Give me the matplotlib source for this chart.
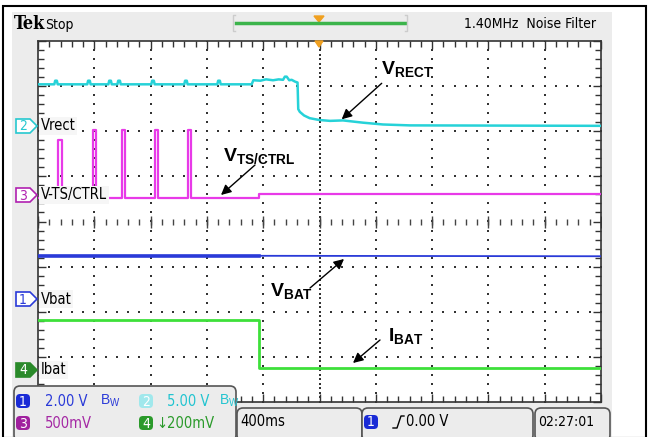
import numpy as np
import matplotlib.pyplot as plt
from matplotlib.patches import Rectangle, FancyBboxPatch, Polygon
from matplotlib.ticker import MultipleLocator

plt.rcParams['font.family'] = ['DejaVu Sans']
plt.rcParams['font.stretch'] = 'condensed'
plt.rcParams['mathtext.fontset'] = 'custom'
plt.rcParams['mathtext.rm'] = 'Liberation Sans'
plt.rcParams['mathtext.bf'] = 'Liberation Sans:bold'

# time in ms (400 ms/div), amplitude in screen divisions
vrect_t = [-2000,
           -1884, -1878, -1866, -1860,
           -1650, -1644, -1632, -1626,
           -1500, -1494, -1482, -1476,
           -1436, -1430, -1418, -1412,
           -1195, -1189, -1177, -1171,
           -961, -955, -943, -937,
           -726, -720, -708, -702,
           -482, -470, -420, -380, -330, -290, -259, -246, -233, -215, -198,
           -174, -156, -151, -140, -110, -70, -3, 75, 167, 309, 451, 643, 2000]
vrect_v = [3.04,
           3.04, 3.12, 3.12, 3.04,
           3.04, 3.12, 3.12, 3.04,
           3.04, 3.12, 3.12, 3.04,
           3.04, 3.12, 3.12, 3.04,
           3.04, 3.12, 3.12, 3.04,
           3.04, 3.12, 3.12, 3.04,
           3.04, 3.12, 3.12, 3.04,
           3.04, 3.13, 3.12, 3.15, 3.13, 3.15, 3.14, 3.21, 3.21, 3.13, 3.14,
           3.10, 3.08, 2.49, 2.43, 2.35, 2.29, 2.25, 2.23, 2.24, 2.19, 2.15, 2.13, 2.12]

vts_t = [-2000, -1858, -1858, -1830, -1830,
         -1609, -1609, -1588, -1588,
         -1403, -1403, -1382, -1382,
         -1169, -1169, -1148, -1148,
         -934, -934, -913, -913,
         -430, -430, 2000]
vts_v = [0.52, 0.52, 1.81, 1.81, 0.52,
         0.52, 2.03, 2.03, 0.52,
         0.52, 2.03, 2.03, 0.52,
         0.52, 2.03, 2.03, 0.52,
         0.52, 2.03, 2.03, 0.52,
         0.52, 0.61, 0.61]

vbat_t = [-2000, -430, 2000]
vbat_v = [-0.76, -0.76, -0.77]

ibat_t = [-2000, -430, -430, 2000]
ibat_v = [-2.18, -2.18, -3.25, -3.25]

fig = plt.figure(figsize=(6.49, 4.37), dpi=100)

# background: outer frame and grey scope panel (pixel coords)
bg = fig.add_axes([0, 0, 1, 1])
bg.set_xlim(0, 649)
bg.set_ylim(437, 0)
bg.axis('off')
bg.add_patch(Rectangle((12, 12), 600, 425, fc='#ececec', ec='none'))
bg.add_patch(Rectangle((2.5, 6), 643.5, 432, fill=False, ec='black', lw=1.5))

# graticule
ax = fig.add_axes([38 / 649, 35 / 437, 563 / 649, 361 / 437])
ax.set_zorder(1)
ax.set_facecolor('white')
ax.set_xlim(-2000, 2000)
ax.set_ylim(-4, 4)
ax.xaxis.set_major_locator(MultipleLocator(400))
ax.xaxis.set_minor_locator(MultipleLocator(80))
ax.yaxis.set_major_locator(MultipleLocator(1))
ax.yaxis.set_minor_locator(MultipleLocator(0.2))
ax.tick_params(which='both', direction='in', top=True, right=True,
               labelbottom=False, labelleft=False, color='#333')
ax.tick_params(which='major', length=6, width=1)
ax.tick_params(which='minor', length=4, width=1)
for s in ax.spines.values():
    s.set_color('#333')
    s.set_linewidth(1.2)

gx = np.arange(-2000, 2001, 80)
gy = np.arange(-4, 4.01, 0.2)
for k in range(-4, 5):
    if k != 0:
        ax.plot(np.full_like(gy, k * 400), gy, ls='none', marker='s', ms=1.5, mew=0, color='#333')
for j in range(-3, 4):
    if j != 0:
        ax.plot(gx, np.full_like(gx, j, dtype=float), ls='none', marker='s', ms=1.5, mew=0, color='#333')
cy = np.arange(-4, 4.01, 0.1)
ax.plot(np.zeros_like(cy), cy, ls='none', marker='s', ms=2, mew=0, color='#333')
ax.plot(gx, np.zeros_like(gx), ls='none', marker='|', ms=5, mew=1, color='#444')
ax.plot(gx[::5], np.zeros(len(gx[::5])), ls='none', marker='|', ms=8, mew=1, color='#444')

# traces
ax.plot(vrect_t, vrect_v, color='#26d2d8', lw=1.8, zorder=3)
ax.plot(vts_t, vts_v, color='#e83ae8', lw=1.6, zorder=3)
ax.plot(vbat_t, vbat_v, color='#2a3ad8', lw=1.3, zorder=3)
ax.plot(vbat_t[:2], vbat_v[:2], color='#2a3ad8', lw=2.6, zorder=3)
ax.plot(ibat_t, ibat_v, color='#3de03a', lw=2, zorder=3)

# overlay: labels, markers, readouts
top = fig.add_axes([0, 0, 1, 1])
top.set_zorder(2)
top.patch.set_visible(False)
top.set_xlim(0, 649)
top.set_ylim(437, 0)
top.axis('off')

top.text(14, 24, 'Tek', family='DejaVu Serif', fontweight='bold', fontsize=13, va='center')
top.text(45, 25, 'Stop', fontsize=10, va='center')
top.plot([236, 405], [23, 23], color='#3cb44b', lw=2.5)
top.plot([235, 233, 233, 235], [15, 15, 31, 31], color='#cccccc', lw=1)
top.plot([405, 407, 407, 405], [15, 15, 31, 31], color='#cccccc', lw=1)
top.add_patch(Polygon([(314, 16), (324, 16), (319, 22)], color='#f0a020'))
top.add_patch(Polygon([(315, 41), (323, 41), (319, 47)], color='#f0a020'))
top.text(464, 24, '1.40MHz  Noise Filter', fontsize=10, va='center')

# channel markers and labels
markers = [(126, '#26c8d0', '2', False, 'Vrect'),
           (195, '#b020b0', '3', False, 'V-TS/CTRL'),
           (299, '#2a3ad8', '1', False, 'Vbat'),
           (370, '#2a8a2a', '4', True, 'Ibat')]
for y, c, n, filled, lab in markers:
    pts = [(16, y - 7), (30, y - 7), (37, y), (30, y + 7), (16, y + 7)]
    top.add_patch(Polygon(pts, fc=c if filled else 'white', ec=c, lw=1.2))
    top.text(23, y + 0.5, n, color='white' if filled else c, fontsize=10, ha='center', va='center')
    top.text(41, y, lab, fontsize=10.5, va='center',
             bbox=dict(fc='#f6f6f6', ec='none', pad=1.2))

# arrows
arrows = [((381.7, 83.3), (341.7, 119.3)),
          ((255, 165), (221, 195)),
          ((310, 288), (344, 259)),
          ((380, 340), (353, 363))]
for a, b in arrows:
    top.annotate('', xy=b, xytext=a,
                 arrowprops=dict(arrowstyle='-|>', color='black', lw=1,
                                 mutation_scale=15, shrinkA=0, shrinkB=0))
top.text(381, 75, r'$\mathbf{V}_{\mathbf{RECT}}$', fontsize=14)
top.text(223, 162, r'$\mathbf{V}_{\mathbf{TS/CTRL}}$', fontsize=14)
top.text(270, 297, r'$\mathbf{V}_{\mathbf{BAT}}$', fontsize=14)
top.text(388, 342, r'$\mathbf{I}_{\mathbf{BAT}}$', fontsize=14)

# readout boxes
top.add_patch(FancyBboxPatch((14, 386), 222, 55, boxstyle='round,pad=0,rounding_size=6',
                             fc='#ececec', ec='#555', lw=1.2))
for x0, w in [(237, 125), (362, 171), (535, 75)]:
    top.add_patch(FancyBboxPatch((x0, 408), w, 33, boxstyle='round,pad=0,rounding_size=6',
                                 fc='#ececec', ec='#555', lw=1.2))


def badge(x, y, c, n):
    top.add_patch(FancyBboxPatch((x, y - 7), 14, 14, boxstyle='round,pad=0,rounding_size=4',
                                 fc=c, ec='none'))
    top.text(x + 7, y + 0.5, n, color='white', fontsize=10, ha='center', va='center')


badge(16, 401, '#1a2bd6', '1')
top.text(45, 401, '2.00 V', color='#2a3ad8', fontsize=10.5, va='center')
top.text(100, 401, r'$\mathrm{B_W}$', color='#2a3ad8', fontsize=10, va='center')
badge(139, 401, '#a0e8ec', '2')
top.text(167, 401, '5.00 V', color='#22c4d0', fontsize=10.5, va='center')
top.text(219, 401, r'$\mathrm{B_W}$', color='#22c4d0', fontsize=10, va='center')
badge(16, 423, '#a0209e', '3')
top.text(45, 423, '500mV', color='#a428a4', fontsize=10.5, va='center')
badge(139, 423, '#2a9a2a', '4')
top.text(156, 423, '↓200mV', color='#2a9a2a', fontsize=10.5, va='center')

top.text(240, 422, '400ms', fontsize=10.5, va='center')
badge(364, 422, '#1a2bd6', '1')
top.plot([393, 397, 401, 404], [428, 428, 416, 416], color='black', lw=1)
top.text(406, 422, '0.00 V', fontsize=10.5, va='center')
top.text(538, 422, '02:27:01', fontsize=10, va='center')

fig.savefig('out.png', dpi=100)
